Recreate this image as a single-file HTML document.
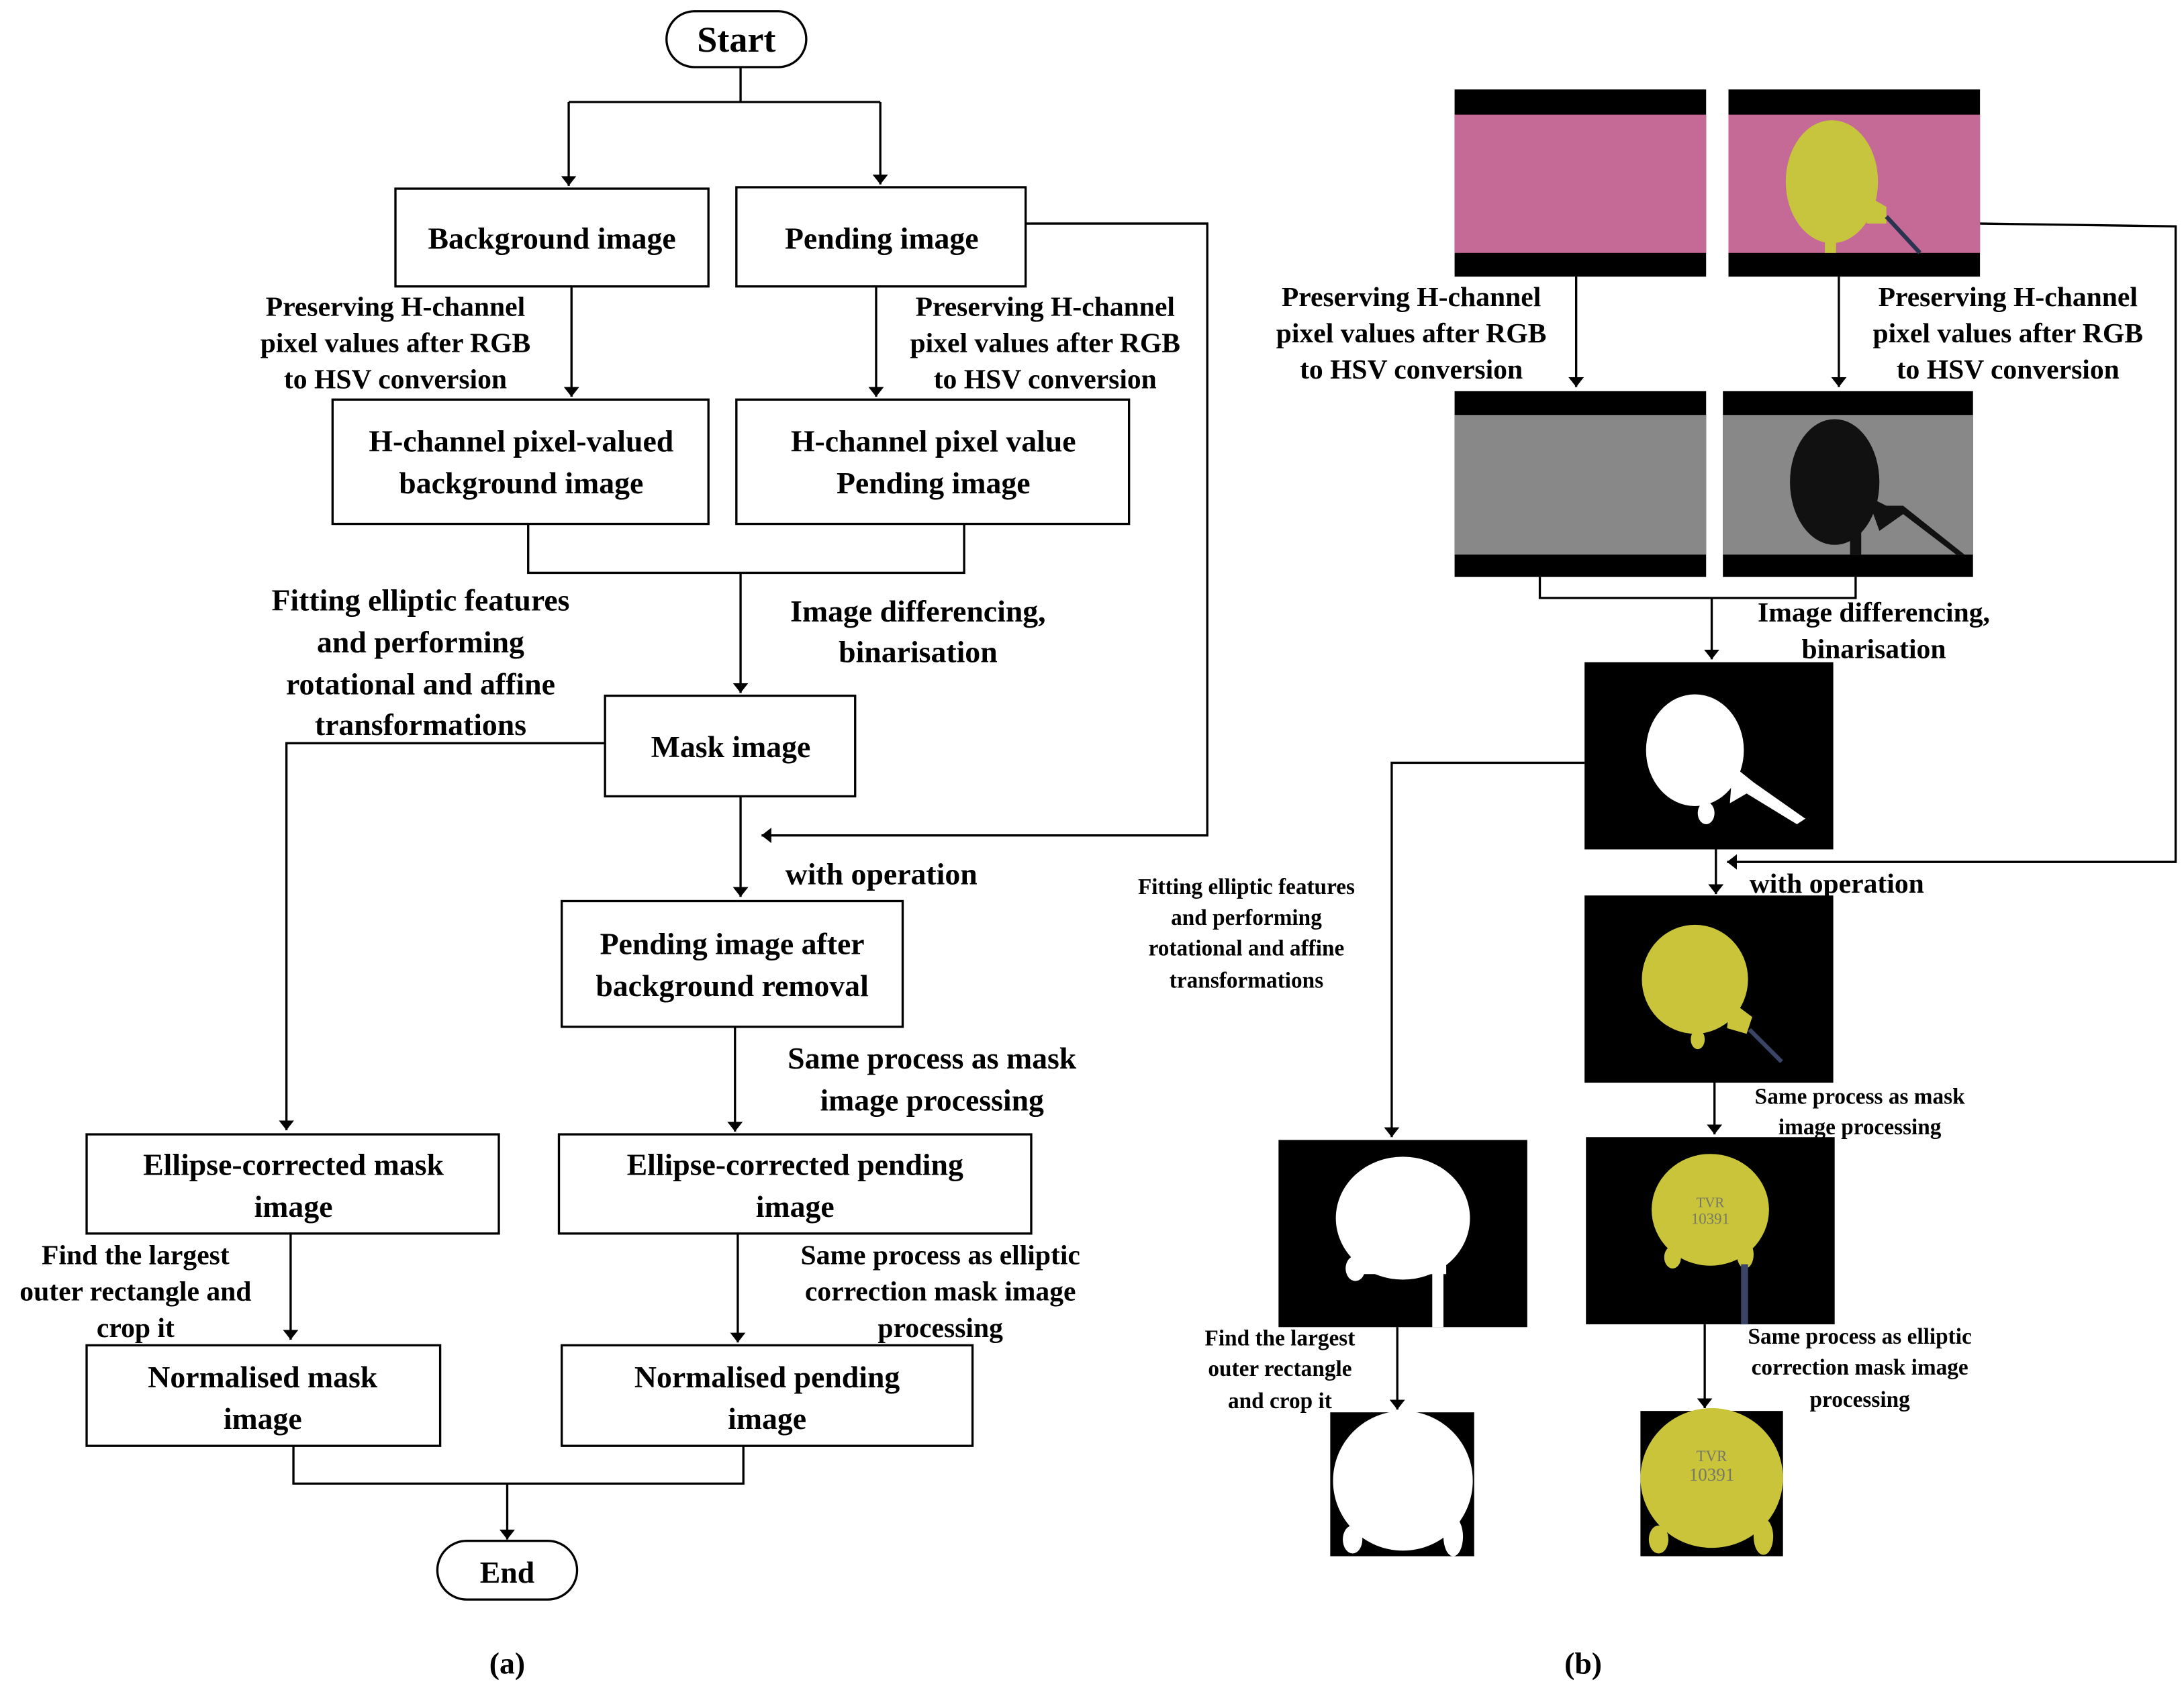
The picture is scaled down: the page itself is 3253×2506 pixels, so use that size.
<!DOCTYPE html>
<html><head><meta charset="utf-8"><style>
html,body{margin:0;padding:0;background:#fff}
svg{display:block}
text{font-family:"Liberation Serif",serif;font-weight:bold;fill:#000}
.b{font-size:22px}
.l{font-size:20px}
.s{font-size:16px}
</style></head><body>
<svg width="3253" height="2506" viewBox="0 0 1563 1204" xmlns="http://www.w3.org/2000/svg">
<defs>
<marker id="a" viewBox="0 0 10 10" refX="10" refY="5" markerWidth="7" markerHeight="11" markerUnits="userSpaceOnUse" orient="auto" preserveAspectRatio="none"><path d="M0,0L10,5L0,10z" fill="#000"/></marker>
</defs>
<g fill="none" stroke="#000" stroke-width="1.6">
<rect x="477" y="8" width="100" height="40" rx="20" fill="#fff"/>
<path d="M530,48V73M407,73H630"/>
<path d="M407,73V133" marker-end="url(#a)"/>
<path d="M630,73V132" marker-end="url(#a)"/>
<rect x="283" y="135" width="224" height="70"/>
<rect x="527" y="134" width="207" height="71"/>
<path d="M734,160H864V598H545" marker-end="url(#a)"/>
<path d="M409,205V284" marker-end="url(#a)"/>
<path d="M627,205V284" marker-end="url(#a)"/>
<rect x="238" y="286" width="269" height="89"/>
<rect x="527" y="286" width="281" height="89"/>
<path d="M378,375V410H690V375"/>
<path d="M530,410V496" marker-end="url(#a)"/>
<rect x="433" y="498" width="179" height="72"/>
<path d="M433,532H205V809" marker-end="url(#a)"/>
<path d="M530,570V642" marker-end="url(#a)"/>
<rect x="402" y="645" width="244" height="90"/>
<path d="M526,735V810" marker-end="url(#a)"/>
<rect x="62" y="812" width="295" height="71"/>
<rect x="400" y="812" width="338" height="71"/>
<path d="M208,883V959" marker-end="url(#a)"/>
<path d="M528,883V961" marker-end="url(#a)"/>
<rect x="62" y="963" width="253" height="72"/>
<rect x="402" y="963" width="294" height="72"/>
<path d="M210,1035V1062H532V1035"/>
<path d="M363,1062V1102" marker-end="url(#a)"/>
<rect x="313" y="1103" width="100" height="42" rx="21"/>
<!-- right -->
<path d="M1417,160L1557,162V617H1236" marker-end="url(#a)"/>
<path d="M1128,198V277" marker-end="url(#a)"/>
<path d="M1316,198V277" marker-end="url(#a)"/>
<path d="M1102,413V428H1328V413"/>
<path d="M1225,428V472" marker-end="url(#a)"/>
<path d="M1134,546H996V814" marker-end="url(#a)"/>
<path d="M1228,608V640" marker-end="url(#a)"/>
<path d="M1227,775V812" marker-end="url(#a)"/>
<path d="M1000,950V1009" marker-end="url(#a)"/>
<path d="M1220,948V1008" marker-end="url(#a)"/>
</g>
<text x="527" y="37" class="b" text-anchor="middle" style="font-size:26px">Start</text>
<text x="395" y="178" class="b" text-anchor="middle">Background image</text>
<text x="631" y="178" class="b" text-anchor="middle">Pending image</text>
<g class="l" text-anchor="middle">
<text x="283" y="226">Preserving H-channel</text><text x="283" y="252">pixel values after RGB</text><text x="283" y="278">to HSV conversion</text>
<text x="748" y="226">Preserving H-channel</text><text x="748" y="252">pixel values after RGB</text><text x="748" y="278">to HSV conversion</text>
</g>
<g class="b" text-anchor="middle">
<text x="373" y="323">H-channel pixel-valued</text><text x="373" y="353">background image</text>
<text x="668" y="323">H-channel pixel value</text><text x="668" y="353">Pending image</text>
<text x="301" y="437">Fitting elliptic features</text><text x="301" y="467">and performing</text><text x="301" y="497">rotational and affine</text><text x="301" y="526">transformations</text>
<text x="657" y="445">Image differencing,</text><text x="657" y="474">binarisation</text>
<text x="523" y="542">Mask image</text>
<text x="524" y="683">Pending image after</text><text x="524" y="713">background removal</text>
<text x="667" y="765">Same process as mask</text><text x="667" y="795">image processing</text>
<text x="210" y="841">Ellipse-corrected mask</text><text x="210" y="871">image</text>
<text x="569" y="841">Ellipse-corrected pending</text><text x="569" y="871">image</text>
<text x="188" y="993">Normalised mask</text><text x="188" y="1023">image</text>
<text x="549" y="993">Normalised pending</text><text x="549" y="1023">image</text>
<text x="363" y="1133">End</text>
<text x="363" y="1198">(a)</text><text x="1133" y="1198">(b)</text>
</g>
<text x="562" y="633" class="b">with operation</text>
<g class="l" text-anchor="middle">
<text x="97" y="905">Find the largest</text><text x="97" y="931">outer rectangle and</text><text x="97" y="957">crop it</text>
<text x="673" y="905">Same process as elliptic</text><text x="673" y="931">correction mask image</text><text x="673" y="957">processing</text>
<text x="1010" y="219">Preserving H-channel</text><text x="1010" y="245">pixel values after RGB</text><text x="1010" y="271">to HSV conversion</text>
<text x="1437" y="219">Preserving H-channel</text><text x="1437" y="245">pixel values after RGB</text><text x="1437" y="271">to HSV conversion</text>
<text x="1341" y="445">Image differencing,</text><text x="1341" y="471">binarisation</text>
</g>
<text x="1252" y="639" class="l">with operation</text>
<g class="s" text-anchor="middle">
<text x="1331" y="790">Same process as mask</text><text x="1331" y="812">image processing</text>
<text x="892" y="640">Fitting elliptic features</text><text x="892" y="662">and performing</text><text x="892" y="684">rotational and affine</text><text x="892" y="707">transformations</text>
<text x="916" y="963">Find the largest</text><text x="916" y="985">outer rectangle</text><text x="916" y="1008">and crop it</text>
<text x="1331" y="962">Same process as elliptic</text><text x="1331" y="984">correction mask image</text><text x="1331" y="1007">processing</text>
</g>
<!-- photos -->
<rect x="1041" y="64" width="180" height="134" fill="#000"/><rect x="1041" y="82" width="180" height="99" fill="#c56a96"/>
<rect x="1237" y="64" width="180" height="134" fill="#000"/><rect x="1237" y="82" width="180" height="99" fill="#c56a96"/>
<path d="M1336,140L1350,148L1350,160L1336,160Z" fill="#c7c53d"/><path d="M1350,155L1374,181" stroke="#2a3450" stroke-width="3"/>
<ellipse cx="1311" cy="130" rx="33" ry="44" fill="#c7c53d"/><rect x="1306" y="165" width="8" height="16" fill="#c7c53d"/>
<rect x="1041" y="280" width="180" height="133" fill="#000"/><rect x="1041" y="297" width="180" height="100" fill="#888"/>
<rect x="1233" y="280" width="179" height="133" fill="#000"/><rect x="1233" y="297" width="179" height="100" fill="#888"/>
<ellipse cx="1313" cy="345" rx="32" ry="45" fill="#111"/><path d="M1336,355L1350,362L1362,362L1406,397L1400,397L1362,368L1345,380Z" fill="#111"/><rect x="1324" y="380" width="8" height="17" fill="#111"/>
<rect x="1134" y="474" width="178" height="134" fill="#000"/>
<ellipse cx="1213" cy="537" rx="35" ry="40" fill="#fff"/><path d="M1240,548L1255,560L1292,586L1286,590L1250,568L1238,575Z" fill="#fff"/><ellipse cx="1221" cy="582" rx="6" ry="8" fill="#fff"/>
<rect x="1134" y="641" width="178" height="134" fill="#000"/>
<ellipse cx="1213" cy="701" rx="38" ry="39" fill="#c9c43a"/><path d="M1238,716L1254,728L1250,740L1236,736Z" fill="#c9c43a"/><ellipse cx="1215" cy="744" rx="5" ry="7" fill="#c9c43a"/><path d="M1252,737L1275,760" stroke="#3a4466" stroke-width="3"/>
<rect x="1135" y="814" width="178" height="134" fill="#000"/>
<ellipse cx="1224" cy="866" rx="42" ry="40" fill="#c9c43a"/><ellipse cx="1197" cy="900" rx="6" ry="8" fill="#c9c43a"/><ellipse cx="1249" cy="898" rx="6" ry="10" fill="#c9c43a"/><rect x="1246" y="905" width="5" height="43" fill="#3a4466"/>
<rect x="915" y="816" width="178" height="134" fill="#000"/>
<ellipse cx="1004" cy="872" rx="48" ry="44" fill="#fff"/><ellipse cx="970" cy="908" rx="7" ry="9" fill="#fff"/><rect x="1025" y="895" width="8" height="55" fill="#fff"/><path d="M975,895H1035V912H975Z" fill="#fff"/>
<rect x="952" y="1011" width="103" height="103" fill="#000"/>
<ellipse cx="1004" cy="1060" rx="50" ry="50" fill="#fff"/><ellipse cx="968" cy="1102" rx="7" ry="10" fill="#fff"/><ellipse cx="1040" cy="1100" rx="7" ry="14" fill="#fff"/>
<rect x="1174" y="1010" width="102" height="104" fill="#000"/>
<ellipse cx="1225" cy="1058" rx="51" ry="50" fill="#c9c43a"/><ellipse cx="1187" cy="1102" rx="7" ry="10" fill="#c9c43a"/><ellipse cx="1262" cy="1100" rx="7" ry="13" fill="#c9c43a"/>
<g text-anchor="middle">
<text x="1224" y="864" style="font-size:10px;font-weight:normal;fill:#776">TVR</text><text x="1224" y="876" style="font-size:11px;font-weight:normal;fill:#776">10391</text>
<text x="1225" y="1046" style="font-size:11px;font-weight:normal;fill:#776">TVR</text><text x="1225" y="1060" style="font-size:13px;font-weight:normal;fill:#776">10391</text>
</g>
</svg>
</body></html>
